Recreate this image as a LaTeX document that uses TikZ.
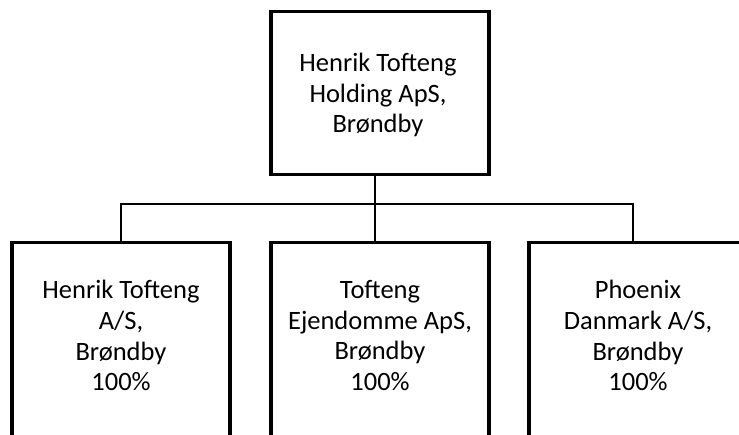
\documentclass[tikz,border=0pt]{standalone}
\usepackage{fontspec}
\setmainfont{Carlito}
\begin{document}
\begin{tikzpicture}[x=1pt,y=-1pt,
  box/.style={draw=black,line width=3.2pt,minimum width=218pt,inner sep=0pt,anchor=north},
  conn/.style={draw=black,line width=1.6pt},
  lbl/.style={align=center,inner sep=0pt,font=\fontsize{26.5}{30.8}\selectfont}]
\useasboundingbox (0,0) rectangle (739,435);
\clip (0,0) rectangle (739,435);
% boxes
\node[box,minimum height=163pt] (tb) at (380,10) {};
\node[box,minimum height=230pt] (b1) at (121,241) {};
\node[box,minimum height=230pt] (b2) at (380,241) {};
\node[box,minimum height=230pt] (b3) at (638,241) {};
% texts
\node[lbl,anchor=center] (t0) at (378,95) {Henrik Tofteng\\Holding ApS,\\Brøndby};
\node[lbl,anchor=north] (t1) at (121,280) {Henrik Tofteng\\A/S,\\Brøndby\\100\%};
\node[lbl,anchor=north] (t2) at (380,280) {Tofteng\\Ejendomme ApS,\\Brøndby\\100\%};
\node[lbl,anchor=north] (t3) at (638,280) {Phoenix\\Danmark A/S,\\Brøndby\\100\%};
% connectors
\coordinate (bus) at (375,204);
\coordinate (busL) at (121,204);
\coordinate (busR) at (633,204);
\draw[conn] (tb.south -| bus) -- (b2.north -| bus);
\draw[conn] (b1.north -| busL) -- (busL) -- (busR) -- (b3.north -| busR);
\end{tikzpicture}
\end{document}
